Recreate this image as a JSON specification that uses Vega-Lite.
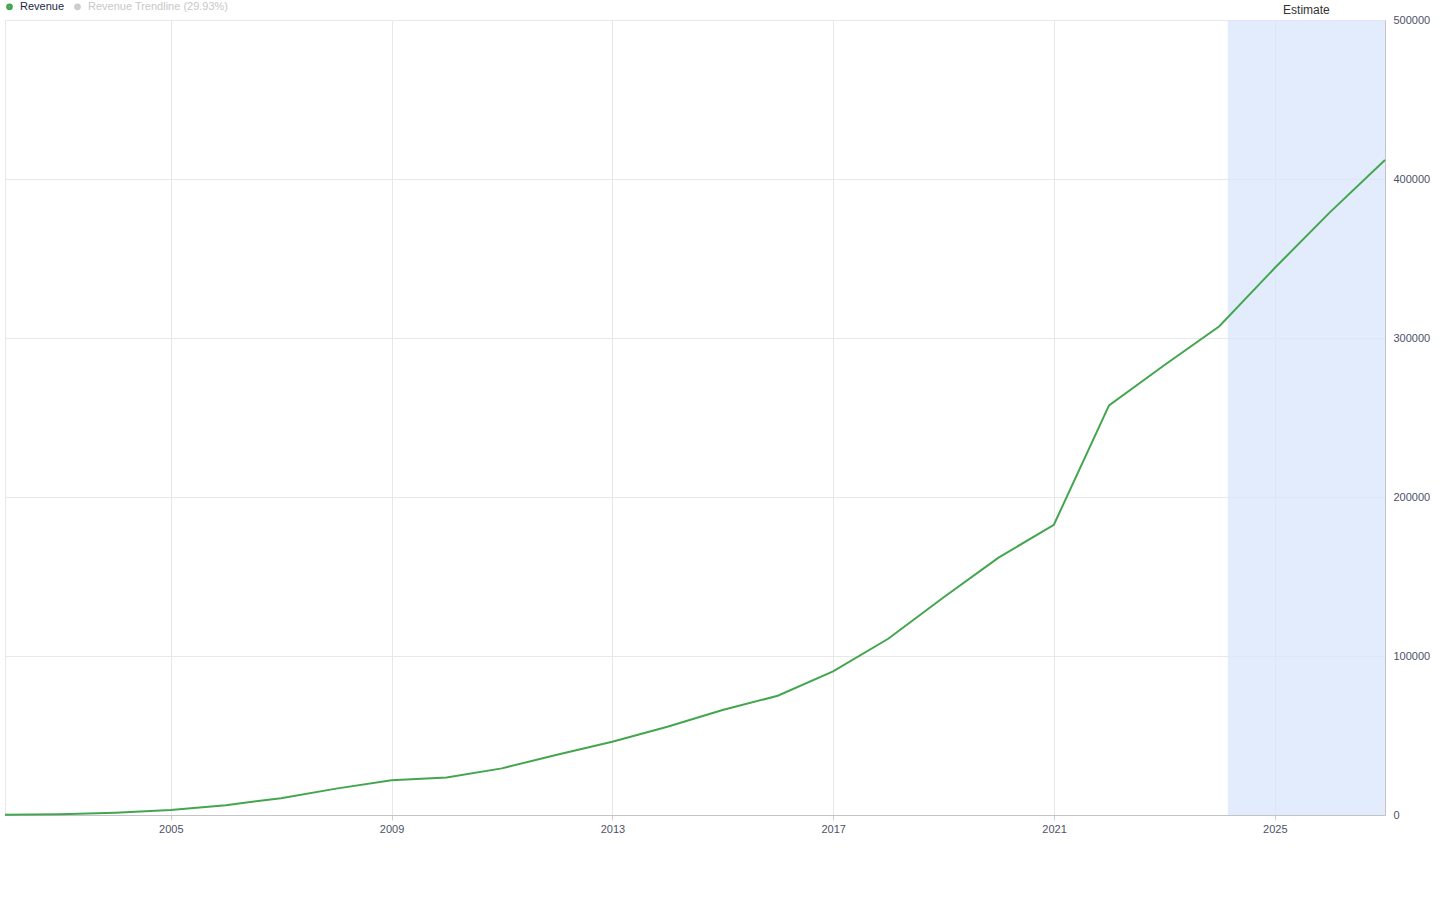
{
  "$schema": "https://vega.github.io/schema/vega-lite/v6.json",
  "width": 1380,
  "height": 795,
  "autosize": {"type": "none"},
  "padding": {"left": 5, "top": 20, "right": 55, "bottom": 85},
  "background": "white",
  "config": {
    "font": "Liberation Sans",
    "view": {"stroke": "#e8e8e8"}
  },
  "datasets": {
    "revenue": [
      {"date": "2001-12-31", "revenue": 86, "series": "Revenue"},
      {"date": "2002-12-31", "revenue": 440, "series": "Revenue"},
      {"date": "2003-12-31", "revenue": 1466, "series": "Revenue"},
      {"date": "2004-12-31", "revenue": 3189, "series": "Revenue"},
      {"date": "2005-12-31", "revenue": 6139, "series": "Revenue"},
      {"date": "2006-12-31", "revenue": 10605, "series": "Revenue"},
      {"date": "2007-12-31", "revenue": 16594, "series": "Revenue"},
      {"date": "2008-12-31", "revenue": 21796, "series": "Revenue"},
      {"date": "2009-12-31", "revenue": 23651, "series": "Revenue"},
      {"date": "2010-12-31", "revenue": 29321, "series": "Revenue"},
      {"date": "2011-12-31", "revenue": 37905, "series": "Revenue"},
      {"date": "2012-12-31", "revenue": 46039, "series": "Revenue"},
      {"date": "2013-12-31", "revenue": 55519, "series": "Revenue"},
      {"date": "2014-12-31", "revenue": 66001, "series": "Revenue"},
      {"date": "2015-12-31", "revenue": 74989, "series": "Revenue"},
      {"date": "2016-12-31", "revenue": 90272, "series": "Revenue"},
      {"date": "2017-12-31", "revenue": 110855, "series": "Revenue"},
      {"date": "2018-12-31", "revenue": 136819, "series": "Revenue"},
      {"date": "2019-12-31", "revenue": 161857, "series": "Revenue"},
      {"date": "2020-12-31", "revenue": 182527, "series": "Revenue"},
      {"date": "2021-12-31", "revenue": 257637, "series": "Revenue"},
      {"date": "2022-12-31", "revenue": 282836, "series": "Revenue"},
      {"date": "2023-12-31", "revenue": 307394, "series": "Revenue"},
      {"date": "2024-12-31", "revenue": 344000, "series": "Revenue"},
      {"date": "2025-12-31", "revenue": 379000, "series": "Revenue"},
      {"date": "2026-12-31", "revenue": 412000, "series": "Revenue"}
    ],
    "band": [{"start": "2024-02-25", "end": "2026-12-31"}],
    "note": [{"date": "2025-07-29", "value": 500000, "label": "Estimate"}]
  },
  "layer": [
    {
      "data": {"name": "band"},
      "mark": {"type": "rect", "color": "#d7e5fb", "opacity": 0.72},
      "encoding": {
        "x": {"field": "start", "type": "temporal"},
        "x2": {"field": "end"}
      }
    },
    {
      "data": {"name": "revenue"},
      "mark": {"type": "line", "strokeWidth": 2},
      "encoding": {
        "x": {
          "field": "date",
          "type": "temporal",
          "title": null,
          "scale": {"type": "utc", "domain": [{"year": 2001, "month": 12, "date": 31, "utc": true}, {"year": 2026, "month": 12, "date": 31, "utc": true}]},
          "axis": {
            "values": [
              {"year": 2005, "month": 1, "date": 1, "utc": true},
              {"year": 2009, "month": 1, "date": 1, "utc": true},
              {"year": 2013, "month": 1, "date": 1, "utc": true},
              {"year": 2017, "month": 1, "date": 1, "utc": true},
              {"year": 2021, "month": 1, "date": 1, "utc": true},
              {"year": 2025, "month": 1, "date": 1, "utc": true}
            ],
            "format": "%Y",
            "formatType": "utc",
            "grid": true,
            "gridColor": "#e8e8e8",
            "domainColor": "#c4c4c8",
            "tickColor": "#d0d0d4",
            "tickSize": 5,
            "labelPadding": 3,
            "labelFontSize": 11,
            "labelColor": "#4d5168",
            "labelFlush": false
          }
        },
        "y": {
          "field": "revenue",
          "type": "quantitative",
          "title": null,
          "scale": {"domain": [0, 500000], "nice": false},
          "axis": {
            "orient": "right",
            "values": [0, 100000, 200000, 300000, 400000, 500000],
            "format": "d",
            "grid": true,
            "gridColor": "#e8e8e8",
            "domainColor": "#c4c4c8",
            "ticks": false,
            "labelPadding": 8,
            "labelFontSize": 11,
            "labelColor": "#4d5168"
          }
        },
        "color": {
          "field": "series",
          "type": "nominal",
          "scale": {"domain": ["Revenue", "Revenue Trendline (29.93%)"], "range": ["#43a64f", "#cccccc"]},
          "legend": {
            "title": null,
            "orient": "none",
            "legendX": -1,
            "legendY": -19,
            "direction": "horizontal",
            "padding": 0,
            "symbolType": "circle",
            "symbolSize": 14,
            "symbolStrokeWidth": 3,
            "symbolOffset": 0,
            "labelOffset": 5,
            "columnPadding": 4,
            "labelFontSize": 11,
            "labelColor": {"expr": "datum.label === 'Revenue' ? '#1c1f45' : '#c8c8c8'"}
          }
        }
      }
    },
    {
      "data": {"name": "note"},
      "mark": {"type": "text", "baseline": "bottom", "align": "center", "dy": -3, "fontSize": 12, "color": "#333333"},
      "encoding": {
        "x": {"field": "date", "type": "temporal"},
        "y": {"field": "value", "type": "quantitative"},
        "text": {"field": "label"}
      }
    }
  ]
}
